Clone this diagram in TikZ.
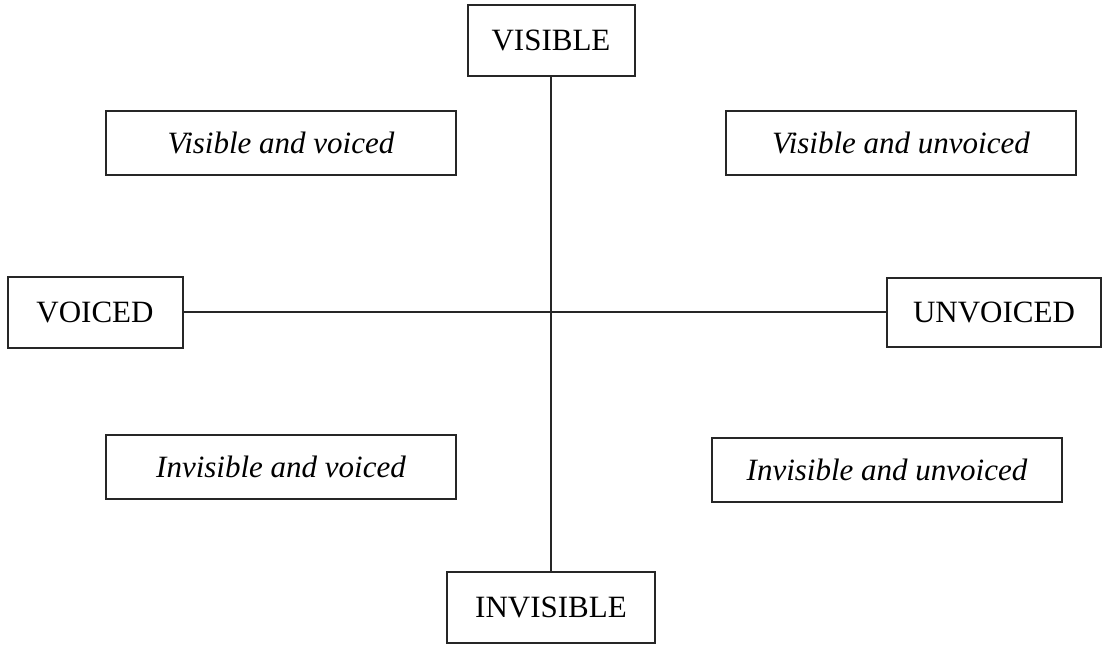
\documentclass[tikz,border=0pt]{standalone}
\usepackage{fontspec}
\setmainfont{Liberation Serif}
\usepackage{tikz}
\usetikzlibrary{shapes}
\usetikzlibrary{positioning}
\tikzstyle{pole}=[rectangle,draw=black!85,line width=1pt,inner sep=0pt,
        minimum height=35.5pt,font=\fontsize{15.5}{18}\selectfont]
\tikzstyle{quadrant}=[rectangle,draw=black!85,line width=1pt,inner sep=0pt,
        minimum width=175pt,minimum height=32pt,font=\fontsize{15.5}{18}\selectfont\itshape]
\tikzstyle{axe}=[draw=black!85,line width=1pt]

\begin{document}
\begin{tikzpicture}[x=0.5pt,y=-0.5pt]
\useasboundingbox (0,0) rectangle (1107,644);
\node[pole,minimum width=83.5pt] (visible) at (551,40) {VISIBLE};
\node[pole,minimum width=104pt] (invisible) at (551,607) {INVISIBLE};
\node[pole,minimum width=87.5pt] (voiced) at (95,312) {VOICED};
\node[pole,minimum width=107pt,minimum height=34.5pt] (unvoiced) at (994,312) {UNVOICED};
\node[quadrant] (vv) at (281,143) {Visible and voiced};
\node[quadrant] (vu) at (901,143) {Visible and unvoiced};
\node[quadrant] (iv) at (281,467) {Invisible and voiced};
\node[quadrant] (iu) at (887,470) {Invisible and unvoiced};
%axes
\draw[axe] (visible) -- (invisible);
\draw[axe] (voiced) -- (unvoiced);
\end{tikzpicture}
\end{document}
